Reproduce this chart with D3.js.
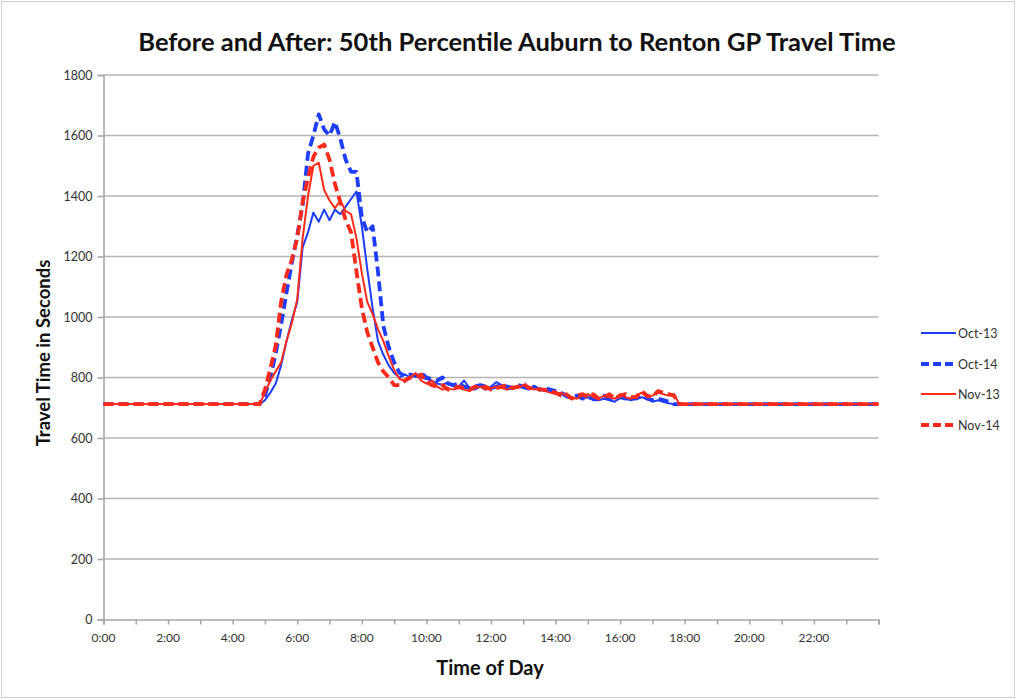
<!DOCTYPE html>
<html><head><meta charset="utf-8">
<script src="https://cdn.jsdelivr.net/npm/d3@7"></script>
<style>
html,body{margin:0;padding:0;background:#fff;}
svg{display:block;font-family:Lato,"Open Sans",sans-serif;}
</style></head>
<body><svg id="chart" width="1017" height="700"></svg>
<script>
const times = ["0:00",
"4:50","5:00","5:10","5:20","5:30","5:40","5:50","6:00","6:10","6:20",
"6:30","6:40","6:50","7:00","7:10","7:20","7:30","7:40","7:50","8:00",
"8:10","8:20","8:30","8:40","8:50","9:00","9:10","9:20","9:30",
"9:40","9:50","10:00","10:10","10:20","10:30","10:40","10:50","11:00","11:10",
"11:20","11:30","11:40","11:50","12:00","12:10","12:20","12:30","12:40","12:50",
"13:00","13:10","13:20","13:30","13:40","13:50","14:00","14:10","14:20","14:30",
"14:40","14:50","15:00","15:10","15:20","15:30","15:40","15:50","16:00","16:10",
"16:20","16:30","16:40","16:50","17:00","17:10","17:20","17:30","17:40","17:50",
"18:00","24:00"];

const oct13 = [712,
712,725,750,780,840,920,990,1050,1230,1280,
1345,1315,1355,1320,1355,1340,1365,1390,1415,1300,
1160,1030,920,875,840,815,800,810,800,
810,800,795,790,780,775,785,770,770,790,
765,760,770,760,770,785,775,760,765,770,
765,760,770,760,755,755,750,745,735,730,
735,730,735,725,725,730,725,720,735,730,
725,730,735,730,720,725,720,715,712,712,
712,712];

const oct14 = [712,
712,740,800,880,975,1080,1180,1270,1370,1540,
1600,1670,1620,1600,1645,1590,1520,1480,1480,1330,
1280,1300,1150,970,900,850,815,805,810,
805,815,800,795,790,800,780,775,780,770,
765,770,775,770,765,770,775,770,765,775,
770,765,770,760,765,760,755,750,740,735,
740,730,735,730,735,740,730,725,735,730,
735,730,740,730,725,730,725,720,712,712,
712,712];

const nov13 = [712,
712,750,790,820,850,920,980,1060,1260,1400,
1500,1510,1420,1385,1360,1385,1350,1340,1260,1145,
1050,1010,960,920,870,825,795,790,800,
815,790,780,790,770,760,765,760,765,760,
755,765,770,760,765,770,765,760,770,765,
775,770,760,765,755,750,745,750,740,735,
730,740,745,735,730,740,735,730,745,735,
730,740,750,735,740,750,745,740,745,712,
712,712];

const nov14 = [712,
712,760,830,905,1050,1140,1190,1260,1380,1460,
1530,1560,1570,1520,1440,1380,1320,1280,1150,1030,
950,900,850,820,800,775,775,790,800,
800,810,785,775,770,775,760,765,770,765,
760,770,765,770,760,765,770,775,765,770,
780,765,765,760,760,755,750,740,745,730,
740,745,735,745,730,735,745,730,740,745,
735,735,755,740,735,755,750,745,740,712,
712,712];

const seriesNames = ["Oct-13","Oct-14","Nov-13","Nov-14"];
const yTicks = [0,200,400,600,800,1000,1200,1400,1600,1800];
const xTickLabels = ["0:00","2:00","4:00","6:00","8:00","10:00","12:00","14:00","16:00","18:00","20:00","22:00"];

const toHours = s => { const [h,m] = s.split(":").map(Number); return h + m/60; };

const series = [
  {name:seriesNames[0], values:oct13, color:"#1f3dff", width:2, dash:null},
  {name:seriesNames[1], values:oct14, color:"#1f3dff", width:3.8, dash:"10,5"},
  {name:seriesNames[2], values:nov13, color:"#ff2a1a", width:2, dash:null},
  {name:seriesNames[3], values:nov14, color:"#ff2a1a", width:3.8, dash:"10,5"}
];

const svg = d3.select("#chart");
svg.append("rect").attr("x",1.5).attr("y",1.5).attr("width",1013).attr("height",696)
  .attr("fill","#fff").attr("stroke","#d0d0d0");

const L = 103.5, R = 878.5, T = 75, B = 619.5;
const x = d3.scaleLinear().domain([0,24]).range([L,R]);
const y = d3.scaleLinear().domain([0,1800]).range([B,T]);

// gridlines
svg.append("g").selectAll("line").data(yTicks.slice(1)).join("line")
  .attr("x1",L).attr("x2",R).attr("y1",d=>y(d)).attr("y2",d=>y(d))
  .attr("stroke","#b4b4b4").attr("stroke-width",1.6);

// y axis
const yAxis = svg.append("g").attr("transform",`translate(${L},0)`)
  .call(d3.axisLeft(y).tickValues(yTicks).tickSize(6).tickPadding(5).tickFormat(d3.format("d")));
yAxis.select(".domain").attr("stroke","#a8a8a8").attr("stroke-width",1.6);
yAxis.selectAll(".tick line").attr("stroke","#a8a8a8").attr("stroke-width",1.6);
yAxis.selectAll("text").attr("fill","#333").style("font-size","12.5px").style("font-family","Lato,'Open Sans',sans-serif");

// x axis
const hourTicks = d3.range(0,25,1);
const xAxis = svg.append("g").attr("transform",`translate(0,${B})`)
  .call(d3.axisBottom(x).tickValues(hourTicks).tickSize(5).tickFormat(""));
xAxis.select(".domain").attr("stroke","#a8a8a8").attr("stroke-width",1.6);
xAxis.selectAll(".tick line").attr("stroke","#a8a8a8").attr("stroke-width",1.6);
svg.append("g").selectAll("text").data(xTickLabels).join("text")
  .attr("x",d=>x(toHours(d))).attr("y",B+22).attr("text-anchor","middle")
  .attr("fill","#333").style("font-size","12px").text(d=>d);

// lines
const line = d3.line().x((d,i)=>x(toHours(times[i]))).y(d=>y(d));
const g = svg.append("g");
series.forEach(s=>{
  g.append("path").datum(s.values).attr("d",line)
    .attr("fill","none").attr("stroke",s.color).attr("stroke-width",s.width)
    .attr("stroke-dasharray",s.dash).attr("stroke-linejoin","round");
});

// legend
const legY = [333,364,394,425];
const leg = svg.append("g");
series.forEach((s,i)=>{
  leg.append("line").attr("x1",921).attr("x2",956).attr("y1",legY[i]).attr("y2",legY[i])
    .attr("stroke",s.color).attr("stroke-width",s.width).attr("stroke-dasharray",s.dash?"8,4":null);
  leg.append("text").attr("x",958).attr("y",legY[i]+4.5).attr("fill","#333")
    .style("font-size","12.5px").text(s.name);
});

// titles
svg.append("text").attr("x",517).attr("y",51).attr("text-anchor","middle")
  .style("font-size","25.5px").style("font-weight","bold").attr("fill","#111")
  .text("Before and After: 50th Percentile Auburn to Renton GP Travel Time");
svg.append("text").attr("x",490).attr("y",675).attr("text-anchor","middle")
  .style("font-size","20px").style("font-weight","bold").attr("fill","#111")
  .text("Time of Day");
svg.append("text").attr("transform","translate(50,353) rotate(-90)").attr("text-anchor","middle")
  .style("font-size","18.5px").style("font-weight","bold").attr("fill","#111")
  .text("Travel Time in Seconds");
</script></body></html>
